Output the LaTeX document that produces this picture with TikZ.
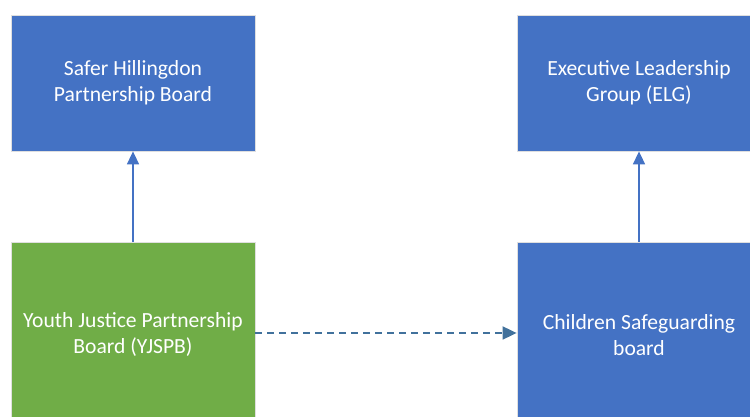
\documentclass[tikz,border=0pt]{standalone}
\usepackage{fontspec}
\setmainfont{Carlito}
\usetikzlibrary{arrows.meta}
\definecolor{boxblue}{HTML}{4472C4}
\definecolor{boxgreen}{HTML}{70AD47}
\definecolor{dashblue}{HTML}{41719C}
\begin{document}
\begin{tikzpicture}[x=1pt,y=1pt,
  orgbox/.style={rectangle, minimum width=244pt, inner sep=0pt, draw=white!75!gray, line width=0.8pt, text=white, align=center, font=\fontsize{21.6}{26}\selectfont},
  uparrow/.style={draw=boxblue, line width=1.6pt, -{Triangle[length=13pt,width=12pt]}},
  dasharrow/.style={draw=dashblue, line width=1.8pt, dash pattern=on 7pt off 5pt, -{Triangle[length=14pt,width=13pt]}}]
\useasboundingbox (0,0) rectangle (750,417);
\clip (0,0) rectangle (750,417);
\node[orgbox, fill=boxblue, minimum height=136pt] (shp) at (133,334) {Safer Hillingdon\\Partnership Board};
\node[orgbox, fill=boxblue, minimum height=136pt] (elg) at (639,334) {Executive Leadership\\Group (ELG)};
\node[orgbox, fill=boxgreen, minimum height=186pt] (yj) at (133,82) {Youth Justice Partnership\\Board (YJSPB)};
\node[orgbox, fill=boxblue, minimum height=186pt] (csb) at (639,82) {Children Safeguarding\\board};
\draw[uparrow] (yj.north) -- (shp.south);
\draw[uparrow] (csb.north) -- (elg.south);
\draw[dasharrow] (yj.east |- 0,84) -- (csb.west |- 0,84);
\end{tikzpicture}
\end{document}
